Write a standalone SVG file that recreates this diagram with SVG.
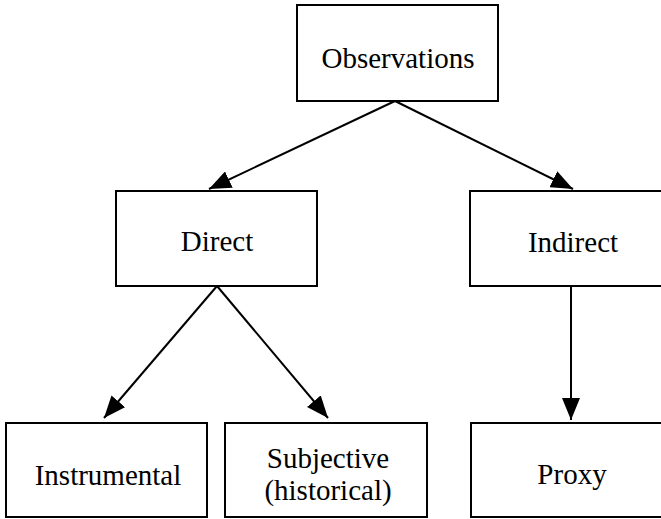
<svg xmlns="http://www.w3.org/2000/svg" width="661" height="519" viewBox="0 0 661 519">
  <style>
    .box { fill: #ffffff; stroke: #000000; stroke-width: 2; }
    .lbl { font-family: 'Liberation Serif', serif; font-size: 29px; fill: #000000; text-anchor: middle; }
    .edge { stroke: #000000; stroke-width: 2; fill: none; marker-end: url(#arrow); }
  </style>
  <defs>
    <marker id="arrow" viewBox="0 0 22 18" refX="22" refY="9" markerWidth="22" markerHeight="18" markerUnits="userSpaceOnUse" orient="auto">
      <path d="M0,0 L22,9 L0,18 Z" fill="#000000"/>
    </marker>
  </defs>
  <rect width="661" height="519" fill="#ffffff"/>
  <g id="connectors">
    <line class="edge" x1="395" y1="101" x2="209" y2="189"/>
    <line class="edge" x1="395" y1="101" x2="573" y2="189"/>
    <line class="edge" x1="217" y1="286" x2="104" y2="418"/>
    <line class="edge" x1="217" y1="286" x2="328" y2="418"/>
    <line class="edge" x1="571" y1="286" x2="571" y2="420"/>
  </g>
  <g id="observations">
    <rect class="box" x="297" y="5" width="201" height="96"/>
    <text class="lbl" font-family="Liberation Serif, serif" x="398" y="68">Observations</text>
  </g>
  <g id="direct">
    <rect class="box" x="116" y="191" width="201" height="95"/>
    <text class="lbl" font-family="Liberation Serif, serif" x="217" y="251">Direct</text>
  </g>
  <g id="indirect">
    <rect class="box" x="470" y="191" width="205" height="95"/>
    <text class="lbl" font-family="Liberation Serif, serif" x="573" y="252">Indirect</text>
  </g>
  <g id="instrumental">
    <rect class="box" x="6" y="423" width="201" height="94"/>
    <text class="lbl" font-family="Liberation Serif, serif" x="108" y="485">Instrumental</text>
  </g>
  <g id="subjective">
    <rect class="box" x="225" y="423" width="202" height="94"/>
    <text class="lbl" font-family="Liberation Serif, serif" x="328" y="468">Subjective</text>
    <text class="lbl" font-family="Liberation Serif, serif" x="328" y="500">(historical)</text>
  </g>
  <g id="proxy">
    <rect class="box" x="471" y="423" width="205" height="94"/>
    <text class="lbl" font-family="Liberation Serif, serif" x="572" y="484">Proxy</text>
  </g>
</svg>
